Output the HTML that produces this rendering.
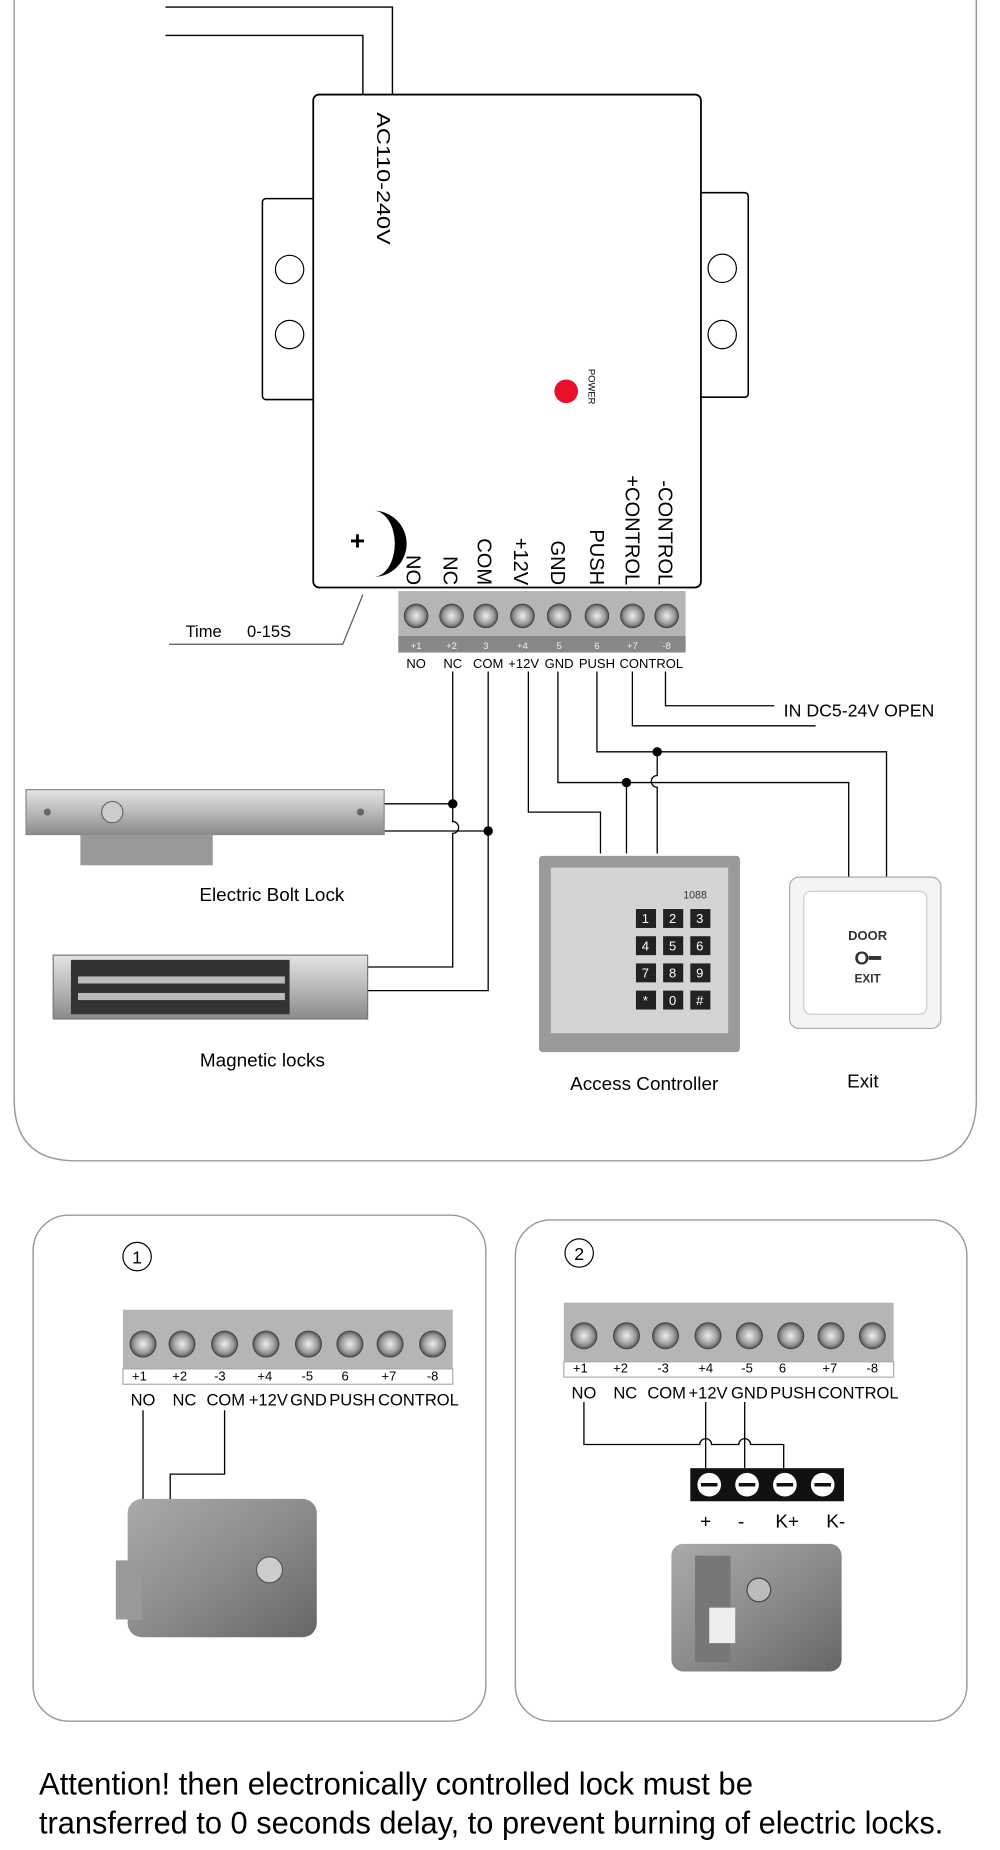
<!DOCTYPE html>
<html><head><meta charset="utf-8"><style>
html,body{margin:0;padding:0;background:#fff;width:1000px;height:1850px;overflow:hidden}
svg{display:block}
text{font-family:"Liberation Sans",sans-serif}
</style></head><body>
<svg width="1000" height="1850" viewBox="0 0 846 1565" preserveAspectRatio="none" xmlns="http://www.w3.org/2000/svg">
<defs>
<linearGradient id="metal" x1="0" y1="0" x2="0" y2="1"><stop offset="0" stop-color="#e4e4e4"/><stop offset="0.5" stop-color="#b9b9b9"/><stop offset="1" stop-color="#8a8a8a"/></linearGradient>
<linearGradient id="lock" x1="0" y1="0" x2="1" y2="1"><stop offset="0" stop-color="#aaa"/><stop offset="0.5" stop-color="#8c8c8c"/><stop offset="1" stop-color="#666"/></linearGradient>
<radialGradient id="screw"><stop offset="0" stop-color="#eee"/><stop offset="0.7" stop-color="#999"/><stop offset="1" stop-color="#555"/></radialGradient>
</defs>
<path d="M12 -10 V930 Q12 982 64 982 H776 Q826 982 826 930 V-10" fill="none" stroke="#999" stroke-width="1.2"/>
<g fill="none" stroke="#000" stroke-width="1.2">
<path d="M140 6 H332 V80"/><path d="M140 30 H307 V80"/>
</g>
<rect x="222" y="168" width="50" height="170" rx="3" fill="#fff" stroke="#000" stroke-width="1.3"/>
<rect x="586" y="163" width="47" height="173" rx="3" fill="#fff" stroke="#000" stroke-width="1.3"/>
<circle cx="245" cy="228" r="12" fill="none" stroke="#000"/><circle cx="245" cy="283" r="12" fill="none" stroke="#000"/>
<circle cx="611" cy="227" r="12" fill="none" stroke="#000"/><circle cx="611" cy="283" r="12" fill="none" stroke="#000"/>
<rect x="265" y="80" width="328" height="417" rx="5" fill="#fff" stroke="#000" stroke-width="1.5"/>
<text transform="translate(319,95) rotate(90)" font-size="16" textLength="112" lengthAdjust="spacingAndGlyphs">AC110-240V</text>
<circle cx="479" cy="331" r="10" fill="#e8102a"/>
<text transform="translate(498,312) rotate(90)" font-size="8">POWER</text>
<path d="M316 432 A28 28 0 0 1 316 488 A18 28 0 0 0 316 432 Z" fill="#000"/>
<text x="296" y="465" font-size="22" font-weight="bold">+</text>
<g font-size="17">
<text transform="translate(344,495) rotate(90)" text-anchor="end">NO</text>
<text transform="translate(375,495) rotate(90)" text-anchor="end">NC</text>
<text transform="translate(404,495) rotate(90)" text-anchor="end">COM</text>
<text transform="translate(435,495) rotate(90)" text-anchor="end">+12V</text>
<text transform="translate(466,495) rotate(90)" text-anchor="end">GND</text>
<text transform="translate(499,495) rotate(90)" text-anchor="end">PUSH</text>
<text transform="translate(529,495) rotate(90)" text-anchor="end">+CONTROL</text>
<text transform="translate(557,495) rotate(90)" text-anchor="end">-CONTROL</text>
</g>
<rect x="337" y="500" width="243" height="52" fill="#b5b5b5"/>
<rect x="337" y="538" width="243" height="14" fill="#888"/>
<g fill="url(#screw)" stroke="#444" stroke-width="0.8">
<circle cx="352" cy="521" r="10"/><circle cx="382" cy="521" r="10"/><circle cx="411" cy="521" r="10"/><circle cx="442" cy="521" r="10"/><circle cx="473" cy="521" r="10"/><circle cx="505" cy="521" r="10"/><circle cx="535" cy="521" r="10"/><circle cx="564" cy="521" r="10"/>
</g>
<g font-size="8" fill="#eee" text-anchor="middle"><text x="352" y="549">+1</text><text x="382" y="549">+2</text><text x="411" y="549">3</text><text x="442" y="549">+4</text><text x="473" y="549">5</text><text x="505" y="549">6</text><text x="535" y="549">+7</text><text x="564" y="549">-8</text></g>
<g font-size="11" text-anchor="middle"><text x="352" y="565">NO</text><text x="383" y="565">NC</text><text x="413" y="565">COM</text><text x="443" y="565">+12V</text><text x="473" y="565">GND</text><text x="505" y="565">PUSH</text><text x="551" y="565">CONTROL</text></g>
<path d="M143 545 H290 L307 503" fill="none" stroke="#555"/>
<text x="157" y="539" font-size="14">Time</text><text x="209" y="539" font-size="14">0-15S</text>
<g fill="none" stroke="#000" stroke-width="1.1">
<path d="M563 568 V597 H655"/>
<path d="M535 568 V614 H690"/>
<path d="M505 568 V636 H750 V742"/>
<path d="M556 636 V656 A5 5 0 0 0 556 666 V722"/>
<path d="M472 568 V662 H718 V742"/>
<path d="M530 662 V722"/>
<path d="M447 568 V687 H508 V722"/>
<path d="M383 568 V695 A5 5 0 0 1 383 705 V818 H311"/>
<path d="M325 680 H383"/>
<path d="M413 568 V838 H311"/>
<path d="M325 703 H413"/>
</g>
<g fill="#000"><circle cx="556" cy="636" r="4"/><circle cx="530" cy="662" r="4"/><circle cx="383" cy="680" r="4"/><circle cx="413" cy="703" r="4"/></g>
<text x="663" y="606" font-size="15">IN  DC5-24V    OPEN</text>
<rect x="22" y="668" width="303" height="38" fill="url(#metal)" stroke="#888"/>
<rect x="68" y="706" width="112" height="26" fill="#999"/>
<circle cx="95" cy="687" r="9" fill="#ccc" stroke="#666"/>
<circle cx="40" cy="687" r="3" fill="#666"/><circle cx="305" cy="687" r="3" fill="#666"/>
<text x="230" y="762" font-size="16" text-anchor="middle">Electric Bolt Lock</text>
<rect x="45" y="808" width="266" height="54" fill="url(#metal)" stroke="#777"/>
<rect x="60" y="812" width="185" height="46" fill="#333"/>
<rect x="66" y="826" width="175" height="6" fill="#bbb"/><rect x="66" y="840" width="175" height="6" fill="#bbb"/>
<text x="222" y="902" font-size="16" text-anchor="middle">Magnetic locks</text>
<rect x="456" y="724" width="170" height="166" rx="3" fill="#9a9a9a"/>
<rect x="466" y="734" width="150" height="140" fill="#d4d4d4"/>
<g fill="#222"><rect x="538" y="769" width="17" height="16"/><rect x="561" y="769" width="17" height="16"/><rect x="584" y="769" width="17" height="16"/><rect x="538" y="792" width="17" height="16"/><rect x="561" y="792" width="17" height="16"/><rect x="584" y="792" width="17" height="16"/><rect x="538" y="815" width="17" height="16"/><rect x="561" y="815" width="17" height="16"/><rect x="584" y="815" width="17" height="16"/><rect x="538" y="838" width="17" height="16"/><rect x="561" y="838" width="17" height="16"/><rect x="584" y="838" width="17" height="16"/></g>
<g fill="#fff" font-size="11" text-anchor="middle"><text x="546" y="781">1</text><text x="569" y="781">2</text><text x="592" y="781">3</text><text x="546" y="804">4</text><text x="569" y="804">5</text><text x="592" y="804">6</text><text x="546" y="827">7</text><text x="569" y="827">8</text><text x="592" y="827">9</text><text x="546" y="850">*</text><text x="569" y="850">0</text><text x="592" y="850">#</text></g>
<text x="578" y="760" font-size="9" fill="#333">1088</text>
<text x="545" y="922" font-size="16" text-anchor="middle">Access Controller</text>
<rect x="668" y="742" width="128" height="128" rx="8" fill="#f4f4f4" stroke="#aaa"/>
<rect x="680" y="754" width="104" height="104" rx="6" fill="#fff" stroke="#ccc"/>
<text x="734" y="795" font-size="11" text-anchor="middle" font-weight="bold" fill="#333">DOOR</text>
<text x="734" y="816" font-size="16" text-anchor="middle" font-weight="bold" fill="#333">O━</text>
<text x="734" y="831" font-size="10" text-anchor="middle" font-weight="bold" fill="#333">EXIT</text>
<text x="730" y="920" font-size="16" text-anchor="middle">Exit</text>
<rect x="28" y="1028" width="383" height="428" rx="30" fill="none" stroke="#999" stroke-width="1.2"/>
<rect x="436" y="1032" width="382" height="424" rx="30" fill="none" stroke="#999" stroke-width="1.2"/>
<circle cx="116" cy="1063" r="12" fill="none" stroke="#000"/><text x="116" y="1069" font-size="15" text-anchor="middle">1</text>
<circle cx="490" cy="1060" r="12" fill="none" stroke="#000"/><text x="490" y="1066" font-size="15" text-anchor="middle">2</text>
<rect x="104" y="1108" width="279" height="50" fill="#b5b5b5"/><rect x="104" y="1158" width="279" height="13" fill="#fff" stroke="#aaa"/>
<g fill="url(#screw)" stroke="#444" stroke-width="0.8"><circle cx="121" cy="1137" r="11"/><circle cx="154" cy="1137" r="11"/><circle cx="190" cy="1137" r="11"/><circle cx="225" cy="1137" r="11"/><circle cx="261" cy="1137" r="11"/><circle cx="296" cy="1137" r="11"/><circle cx="330" cy="1137" r="11"/><circle cx="366" cy="1137" r="11"/></g>
<g font-size="11" text-anchor="middle"><text x="118" y="1168">+1</text><text x="152" y="1168">+2</text><text x="186" y="1168">-3</text><text x="224" y="1168">+4</text><text x="260" y="1168">-5</text><text x="292" y="1168">6</text><text x="329" y="1168">+7</text><text x="366" y="1168">-8</text></g>
<g font-size="14" text-anchor="middle"><text x="121" y="1189">NO</text><text x="156" y="1189">NC</text><text x="191" y="1189">COM</text><text x="227" y="1189">+12V</text><text x="261" y="1189">GND</text><text x="298" y="1189">PUSH</text><text x="354" y="1189">CONTROL</text></g>
<path d="M121 1193 V1285 M190 1193 V1247 H144 V1285" fill="none" stroke="#000" stroke-width="1.1"/>
<rect x="108" y="1268" width="160" height="117" rx="12" fill="url(#lock)"/>
<rect x="98" y="1320" width="22" height="50" fill="#999"/>
<circle cx="228" cy="1328" r="11" fill="#ccc" stroke="#555"/>
<rect x="477" y="1102" width="279" height="50" fill="#b5b5b5"/><rect x="477" y="1152" width="279" height="13" fill="#fff" stroke="#aaa"/>
<g fill="url(#screw)" stroke="#444" stroke-width="0.8"><circle cx="494" cy="1130" r="11"/><circle cx="530" cy="1130" r="11"/><circle cx="563" cy="1130" r="11"/><circle cx="599" cy="1130" r="11"/><circle cx="634" cy="1130" r="11"/><circle cx="669" cy="1130" r="11"/><circle cx="703" cy="1130" r="11"/><circle cx="738" cy="1130" r="11"/></g>
<g font-size="11" text-anchor="middle"><text x="491" y="1161">+1</text><text x="525" y="1161">+2</text><text x="561" y="1161">-3</text><text x="597" y="1161">+4</text><text x="632" y="1161">-5</text><text x="662" y="1161">6</text><text x="702" y="1161">+7</text><text x="738" y="1161">-8</text></g>
<g font-size="14" text-anchor="middle"><text x="494" y="1183">NO</text><text x="529" y="1183">NC</text><text x="564" y="1183">COM</text><text x="599" y="1183">+12V</text><text x="634" y="1183">GND</text><text x="671" y="1183">PUSH</text><text x="726" y="1183">CONTROL</text></g>
<path d="M494 1186 V1222 H592 A5 5 0 0 1 602 1222 H625 A5 5 0 0 1 635 1222 H663 V1242 M597 1186 V1242 M630 1186 V1242" fill="none" stroke="#000" stroke-width="1.1"/>
<rect x="584" y="1242" width="130" height="28" fill="#111"/>
<g fill="#fff"><circle cx="600" cy="1256" r="10"/><circle cx="632" cy="1256" r="10"/><circle cx="664" cy="1256" r="10"/><circle cx="696" cy="1256" r="10"/></g>
<g stroke="#111" stroke-width="3"><path d="M593 1256 H607 M625 1256 H639 M657 1256 H671 M689 1256 H703"/></g>
<g font-size="16" text-anchor="middle"><text x="597" y="1292">+</text><text x="627" y="1292">-</text><text x="666" y="1292">K+</text><text x="707" y="1292">K-</text></g>
<rect x="568" y="1306" width="144" height="108" rx="10" fill="url(#lock)"/>
<rect x="588" y="1316" width="30" height="90" fill="#777"/>
<rect x="600" y="1360" width="22" height="30" fill="#eee"/>
<circle cx="642" cy="1345" r="10" fill="#bbb" stroke="#444"/>
<text x="33" y="1518" font-size="27" textLength="604" lengthAdjust="spacingAndGlyphs">Attention! then electronically controlled lock must be</text>
<text x="33" y="1551" font-size="27" textLength="765" lengthAdjust="spacingAndGlyphs">transferred to 0 seconds delay, to prevent burning of electric locks.</text>
</svg>
</body></html>
